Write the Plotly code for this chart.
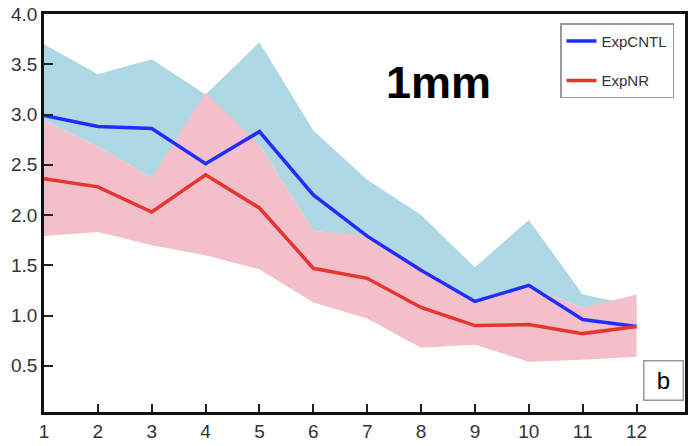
import plotly.graph_objects as go

months = [1, 2, 3, 4, 5, 6, 7, 8, 9, 10, 11, 12]

cntl_mean = [2.99, 2.88, 2.86, 2.51, 2.83, 2.20, 1.79, 1.45, 1.14, 1.30, 0.96, 0.89]
cntl_upper = [3.70, 3.40, 3.55, 3.20, 3.72, 2.84, 2.35, 2.00, 1.48, 1.95, 1.21, 1.10]
cntl_lower = [2.94, 2.68, 2.37, 2.40, 2.70, 1.84, 1.79, 1.45, 1.12, 1.28, 1.08, 0.90]

nr_mean = [2.36, 2.28, 2.03, 2.40, 2.07, 1.47, 1.37, 1.08, 0.90, 0.91, 0.82, 0.89]
nr_upper = [2.94, 2.68, 2.37, 3.22, 2.70, 1.84, 1.80, 1.48, 1.12, 1.28, 1.08, 1.21]
nr_lower = [1.79, 1.83, 1.70, 1.60, 1.46, 1.13, 0.97, 0.68, 0.71, 0.54, 0.56, 0.59]

y_ticks = [0.5, 1.0, 1.5, 2.0, 2.5, 3.0, 3.5, 4.0]

BLUE_BAND = "#add8e4"
PINK_BAND = "#f3bfcb"
BLUE_LINE = "#1f2eff"
RED_LINE = "#e6352f"

fig = go.Figure()

fig.add_trace(go.Scatter(
    x=months + months[::-1], y=cntl_upper + cntl_lower[::-1],
    fill="toself", fillcolor=BLUE_BAND, line=dict(width=0),
    mode="lines", showlegend=False, hoverinfo="skip"))
fig.add_trace(go.Scatter(
    x=months + months[::-1], y=nr_upper + nr_lower[::-1],
    fill="toself", fillcolor=PINK_BAND, line=dict(width=0),
    mode="lines", showlegend=False, hoverinfo="skip"))
fig.add_trace(go.Scatter(
    x=months, y=cntl_mean, mode="lines", name="ExpCNTL",
    line=dict(color=BLUE_LINE, width=3.5), legendgroup="a"))
fig.add_trace(go.Scatter(
    x=months, y=nr_mean, mode="lines", name="ExpNR",
    line=dict(color=RED_LINE, width=3.5), legendgroup="b"))

tick_font = dict(family="Liberation Sans, Arial", size=19, color="#333333")

fig.update_layout(
    width=692, height=446,
    margin=dict(l=44, r=4, t=13, b=31),
    paper_bgcolor="white", plot_bgcolor="white",
    legend=dict(
        x=0.805, y=0.977, xanchor="left", yanchor="top",
        bgcolor="white", bordercolor="#999999", borderwidth=1.5,
        font=dict(family="Liberation Sans, Arial", size=15, color="#333333"),
        tracegroupgap=17, itemwidth=30,
    ),
    annotations=[
        dict(text="<b>1mm</b>", x=0.615, y=0.827, xref="paper", yref="paper",
             xanchor="center", yanchor="middle",
             showarrow=False, font=dict(family="Liberation Sans, Arial", size=45, color="black")),
        dict(text="b", x=0.999, y=0.028, xref="paper", yref="paper",
             xanchor="right", yanchor="bottom", showarrow=False,
             bordercolor="#999999", borderwidth=1.5, bgcolor="white",
             borderpad=6, width=26, height=26,
             font=dict(family="Liberation Sans, Arial", size=24, color="black")),
    ],
)

fig.update_xaxes(
    range=[1, 12.9], tickmode="array", tickvals=months,
    ticktext=[str(m) for m in months],
    ticks="inside", ticklen=8, tickwidth=1.5, tickcolor="#222222",
    showline=True, linecolor="#111111", linewidth=2.5, mirror=True,
    showgrid=False, zeroline=False, tickfont=tick_font,
)
fig.update_yaxes(
    range=[0.04, 4.0], tickmode="array", tickvals=y_ticks,
    ticktext=[f"{v:.1f}" for v in y_ticks],
    ticks="inside", ticklen=9, tickwidth=1.5, tickcolor="#222222",
    showline=True, linecolor="#111111", linewidth=2.5, mirror=True,
    showgrid=False, zeroline=False, tickfont=tick_font,
)

fig.write_html("out.html")
